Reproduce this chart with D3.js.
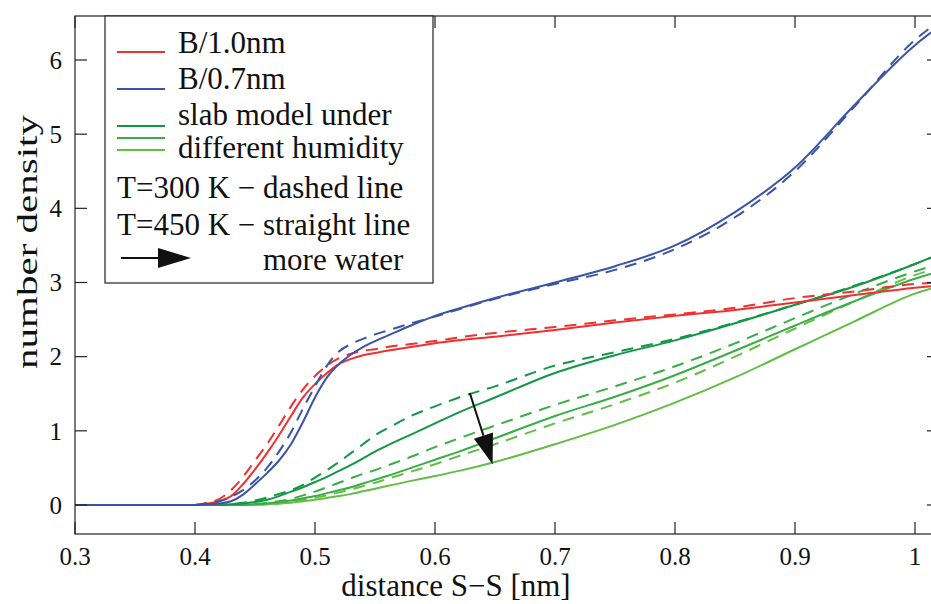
<!DOCTYPE html>
<html>
<head>
<meta charset="utf-8">
<script src="https://cdn.jsdelivr.net/npm/d3@7"></script>
<style>
  body { margin: 0; background: #fff; }
  svg text { font-family: "Liberation Serif", "DejaVu Serif", serif; fill: #111; }
</style>
</head>
<body>
<div id="chart"></div>
<script>
// distance S-S [nm] sampling grid, shared by every curve
var distancias = [0.30, 0.40, 0.41, 0.42, 0.43, 0.44, 0.45, 0.46, 0.47, 0.48, 0.49, 0.50,
    0.51, 0.52, 0.53, 0.54, 0.55, 0.56, 0.58, 0.60, 0.62, 0.65, 0.70, 0.75, 0.80, 0.85,
    0.90, 0.95, 1.00, 1.02];

// B/1.0nm
var rojo450 = [0, 0, 0.02, 0.05, 0.12, 0.28, 0.48, 0.70, 0.94, 1.20, 1.45, 1.63,
    1.78, 1.90, 1.97, 2.02, 2.05, 2.08, 2.13, 2.18, 2.22, 2.27, 2.36, 2.46, 2.55, 2.63,
    2.73, 2.83, 2.93, 2.96];
var rojo300 = [0, 0, 0.03, 0.08, 0.20, 0.38, 0.60, 0.82, 1.07, 1.33, 1.56, 1.74,
    1.88, 1.98, 2.04, 2.08, 2.10, 2.13, 2.17, 2.21, 2.26, 2.32, 2.40, 2.49, 2.57, 2.66,
    2.79, 2.88, 2.98, 3.00];

// B/0.7nm
var azul450 = [0, 0, 0.01, 0.02, 0.05, 0.14, 0.28, 0.43, 0.60, 0.82, 1.12, 1.45,
    1.72, 1.90, 2.03, 2.13, 2.21, 2.28, 2.42, 2.55, 2.65, 2.79, 3.00, 3.22, 3.50, 3.95,
    4.55, 5.40, 6.20, 6.45];
var azul300 = [0, 0, 0.02, 0.05, 0.11, 0.20, 0.33, 0.50, 0.72, 0.98, 1.30, 1.60,
    1.88, 2.07, 2.17, 2.24, 2.30, 2.35, 2.45, 2.54, 2.64, 2.78, 2.98, 3.17, 3.45, 3.88,
    4.50, 5.38, 6.27, 6.52];

// slab model, less water -> more water
var verde1_450 = [0, 0, 0, 0, 0.01, 0.02, 0.04, 0.07, 0.12, 0.18, 0.24, 0.31,
    0.38, 0.46, 0.54, 0.63, 0.72, 0.80, 0.95, 1.10, 1.25, 1.45, 1.78, 2.02, 2.22, 2.45,
    2.70, 2.95, 3.25, 3.38];
var verde1_300 = [0, 0, 0, 0, 0.01, 0.03, 0.06, 0.10, 0.15, 0.20, 0.27, 0.37,
    0.47, 0.58, 0.70, 0.82, 0.94, 1.03, 1.20, 1.33, 1.45, 1.60, 1.88, 2.06, 2.24, 2.46,
    2.70, 2.96, 3.25, 3.38];
var verde2_450 = [0, 0, 0, 0, 0, 0, 0.01, 0.02, 0.04, 0.06, 0.09, 0.12,
    0.16, 0.20, 0.24, 0.29, 0.34, 0.39, 0.50, 0.61, 0.72, 0.90, 1.20, 1.46, 1.75, 2.08,
    2.42, 2.75, 3.05, 3.15];
var verde2_300 = [0, 0, 0, 0, 0, 0, 0.01, 0.03, 0.05, 0.08, 0.13, 0.18,
    0.24, 0.30, 0.36, 0.42, 0.47, 0.53, 0.65, 0.78, 0.90, 1.07, 1.35, 1.60, 1.87, 2.18,
    2.52, 2.85, 3.15, 3.25];
var verde3_450 = [0, 0, 0, 0, 0, 0, 0.005, 0.01, 0.02, 0.03, 0.05, 0.07,
    0.095, 0.12, 0.15, 0.185, 0.22, 0.255, 0.325, 0.39, 0.46, 0.58, 0.82, 1.08, 1.38, 1.72,
    2.10, 2.48, 2.85, 2.95];
var verde3_300 = [0, 0, 0, 0, 0, 0, 0.005, 0.01, 0.02, 0.04, 0.07, 0.10,
    0.13, 0.17, 0.21, 0.255, 0.30, 0.35, 0.45, 0.55, 0.66, 0.82, 1.10, 1.36, 1.65, 2.00,
    2.38, 2.75, 3.10, 3.20];

var ticksX = [0.3, 0.4, 0.5, 0.6, 0.7, 0.8, 0.9, 1.0];
var ticksY = [0, 1, 2, 3, 4, 5, 6];
var etiquetasX = ["0.3", "0.4", "0.5", "0.6", "0.7", "0.8", "0.9", "1"];

// arrow "more water": from (x, y) to (x, y) in data units
var flechaInicio = [0.629, 1.51];
var flechaFin = [0.648, 0.55];

var rojo = "#ee3131", azul = "#3a54a6";
var verdeOscuro = "#129744", verdeMedio = "#3aae46", verdeClaro = "#62be43";

var curvas = [
    { valores: verde3_300, color: verdeClaro, guion: true },
    { valores: verde3_450, color: verdeClaro, guion: false },
    { valores: verde2_300, color: verdeMedio, guion: true },
    { valores: verde2_450, color: verdeMedio, guion: false },
    { valores: verde1_300, color: verdeOscuro, guion: true },
    { valores: verde1_450, color: verdeOscuro, guion: false },
    { valores: rojo300, color: rojo, guion: true },
    { valores: rojo450, color: rojo, guion: false },
    { valores: azul300, color: azul, guion: true },
    { valores: azul450, color: azul, guion: false }
];

var width = 931, height = 604;
var izq = 75, der = 939, arriba = 16, abajo = 534;

var svg = d3.select("#chart").append("svg")
    .attr("width", width)
    .attr("height", height);

var x = d3.scaleLinear().domain([0.3, 1.0]).range([izq, 915]);
var y = d3.scaleLinear().domain([0, 6]).range([505, 60]);

svg.append("clipPath").attr("id", "recorte")
    .append("rect")
    .attr("x", izq).attr("y", arriba)
    .attr("width", der - izq).attr("height", abajo - arriba);

var linea = d3.line()
    .x(function (d) { return x(d[0]); })
    .y(function (d) { return y(d[1]); })
    .curve(d3.curveMonotoneX);

var capa = svg.append("g").attr("clip-path", "url(#recorte)");

capa.selectAll(".curva")
    .data(curvas)
    .enter().append("path")
    .attr("class", "curva")
    .attr("d", function (d) {
        return linea(distancias.map(function (xv, i) { return [xv, d.valores[i]]; }));
    })
    .attr("fill", "none")
    .attr("stroke", function (d) { return d.color; })
    .attr("stroke-width", 2)
    .attr("stroke-dasharray", function (d) { return d.guion ? "12,8" : null; });

// arrow inside the plot
function flecha(g, x1, y1, x2, y2, largo, ancho) {
    var ang = Math.atan2(y2 - y1, x2 - x1);
    var bx = x2 - largo * Math.cos(ang), by = y2 - largo * Math.sin(ang);
    var nx = -Math.sin(ang) * ancho, ny = Math.cos(ang) * ancho;
    g.append("line")
        .attr("x1", x1).attr("y1", y1).attr("x2", bx).attr("y2", by)
        .attr("stroke", "#111").attr("stroke-width", 2);
    g.append("path")
        .attr("d", "M" + x2 + "," + y2 + "L" + (bx + nx) + "," + (by + ny) + "L" + (bx - nx) + "," + (by - ny) + "Z")
        .attr("fill", "#111");
}
flecha(svg, x(flechaInicio[0]), y(flechaInicio[1]), x(flechaFin[0]), y(flechaFin[1]), 30, 10);

// frame and inward ticks
var marco = svg.append("g").attr("stroke", "#222").attr("stroke-width", 1.2);
marco.append("rect")
    .attr("x", izq).attr("y", arriba)
    .attr("width", der - izq).attr("height", abajo - arriba)
    .attr("fill", "none");

marco.selectAll(".tx")
    .data(ticksX)
    .enter().append("line")
    .attr("x1", function (d) { return x(d); }).attr("x2", function (d) { return x(d); })
    .attr("y1", abajo).attr("y2", abajo - 12);
marco.selectAll(".txa")
    .data(ticksX)
    .enter().append("line")
    .attr("x1", function (d) { return x(d); }).attr("x2", function (d) { return x(d); })
    .attr("y1", arriba).attr("y2", arriba + 12);
marco.selectAll(".ty")
    .data(ticksY)
    .enter().append("line")
    .attr("y1", function (d) { return y(d); }).attr("y2", function (d) { return y(d); })
    .attr("x1", izq).attr("x2", izq + 12);
marco.selectAll(".tyd")
    .data(ticksY)
    .enter().append("line")
    .attr("y1", function (d) { return y(d); }).attr("y2", function (d) { return y(d); })
    .attr("x1", der).attr("x2", der - 12);

svg.selectAll(".ex")
    .data(ticksX)
    .enter().append("text")
    .attr("x", function (d) { return x(d); })
    .attr("y", 565)
    .attr("text-anchor", "middle")
    .style("font-size", "25px")
    .text(function (d, i) { return etiquetasX[i]; });

svg.selectAll(".ey")
    .data(ticksY)
    .enter().append("text")
    .attr("x", 62)
    .attr("y", function (d) { return y(d); })
    .attr("dy", "0.35em")
    .attr("text-anchor", "end")
    .style("font-size", "25px")
    .text(function (d) { return d; });

svg.append("text")
    .attr("x", 456).attr("y", 596)
    .attr("text-anchor", "middle")
    .style("font-size", "31px")
    .text("distance S\u2212S [nm]");

svg.append("text")
    .attr("transform", "translate(37,242) rotate(-90)")
    .attr("text-anchor", "middle")
    .attr("textLength", 254)
    .attr("lengthAdjust", "spacingAndGlyphs")
    .style("font-size", "30px")
    .text("number density");

// legend
var leyenda = svg.append("g");
leyenda.append("rect")
    .attr("x", 105).attr("y", arriba)
    .attr("width", 328).attr("height", 267)
    .attr("fill", "#fff").attr("stroke", "#222").attr("stroke-width", 1.2);

var muestras = [
    { y: 52, color: rojo }, { y: 89, color: azul },
    { y: 126, color: verdeOscuro }, { y: 138, color: verdeMedio }, { y: 150, color: verdeClaro }
];
leyenda.selectAll(".m")
    .data(muestras)
    .enter().append("line")
    .attr("x1", 117).attr("x2", 165)
    .attr("y1", function (d) { return d.y; }).attr("y2", function (d) { return d.y; })
    .attr("stroke", function (d) { return d.color; })
    .attr("stroke-width", 2);

var textos = [
    { x: 178, y: 53, t: "B/1.0nm" },
    { x: 178, y: 89, t: "B/0.7nm" },
    { x: 178, y: 125, t: "slab model under" },
    { x: 178, y: 158, t: "different humidity" },
    { x: 117, y: 198, t: "T=300 K \u2212 dashed line" },
    { x: 117, y: 235, t: "T=450 K \u2212 straight line" },
    { x: 263, y: 270, t: "more water" }
];
leyenda.selectAll(".t")
    .data(textos)
    .enter().append("text")
    .attr("x", function (d) { return d.x; })
    .attr("y", function (d) { return d.y; })
    .style("font-size", "31px")
    .text(function (d) { return d.t; });

flecha(leyenda, 121, 258, 191, 258, 33, 10);
</script>
</body>
</html>
